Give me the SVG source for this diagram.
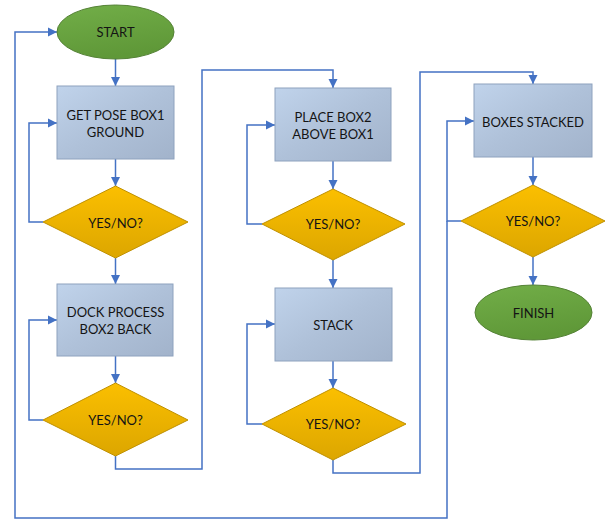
<svg xmlns="http://www.w3.org/2000/svg" width="605" height="520" viewBox="0 0 605 520">
<defs>
<linearGradient id="gGreen" x1="0" y1="0" x2="0.3" y2="1">
<stop offset="0" stop-color="#72AE48"/>
<stop offset="1" stop-color="#5F9838"/>
</linearGradient>
<linearGradient id="gBlue" x1="0" y1="0" x2="1" y2="1">
<stop offset="0" stop-color="#C0D3EB"/>
<stop offset="0.5" stop-color="#AFC1D9"/>
<stop offset="1" stop-color="#A2B3CB"/>
</linearGradient>
<linearGradient id="gGold" x1="0" y1="0" x2="0" y2="1">
<stop offset="0" stop-color="#FBBF00"/>
<stop offset="1" stop-color="#DCA600"/>
</linearGradient>
<marker id="arr" markerUnits="userSpaceOnUse" markerWidth="10" markerHeight="10" refX="9" refY="5" orient="auto">
<path d="M0,0.5 L9,5 L0,9.5 Z" fill="#4472C4"/>
</marker>
<style>
.term{fill:url(#gGreen);stroke:#548235;stroke-width:1}
.proc{fill:url(#gBlue);stroke:#8EA2BE;stroke-width:1}
.dec{fill:url(#gGold);stroke:#BF9000;stroke-width:1}
.lbl{font-family:Lato,"Liberation Sans",Arial,sans-serif;font-size:13px;fill:#141414;text-anchor:middle}
.con{fill:none;stroke:#4472C4;stroke-width:1.5}
.arrow{marker-end:url(#arr)}
</style>
</defs>

<g id="connectors">
<path class="con arrow" d="M115.5,59 L115.5,86"/>
<path class="con arrow" d="M115.5,159 L115.5,186"/>
<path class="con arrow" d="M43,222 L29,222 L29,123 L57,123"/>
<path class="con arrow" d="M115.5,258 L115.5,284"/>
<path class="con arrow" d="M115.5,356 L115.5,383"/>
<path class="con arrow" d="M43,420 L29,420 L29,320 L57,320"/>
<path class="con arrow" d="M115.5,456 L115.5,469 L202,469 L202,70 L333,70 L333,88"/>
<path class="con arrow" d="M333,161 L333,189"/>
<path class="con arrow" d="M262,224 L247,224 L247,125 L275,125"/>
<path class="con arrow" d="M333,260 L333,288"/>
<path class="con arrow" d="M333,361 L333,388"/>
<path class="con arrow" d="M262,424 L247,424 L247,324 L275,324"/>
<path class="con arrow" d="M333,460 L333,473 L420,473 L420,72 L533,72 L533,84"/>
<path class="con arrow" d="M533,157 L533,185"/>
<path class="con arrow" d="M461,221 L447,221 L447,121 L474,121"/>
<path class="con arrow" d="M447,221 L447,518 L15,518 L15,32 L57,32"/>
<path class="con arrow" d="M533,257 L533,285"/>
</g>

<g id="start">
<ellipse class="term" cx="115.5" cy="32" rx="58.5" ry="27"/>
<text class="lbl" x="115.5" y="37">START</text>
</g>

<g id="getPose">
<rect class="proc" x="57" y="86" width="117" height="73"/>
<text class="lbl" x="115.5" y="120">GET POSE BOX1</text>
<text class="lbl" x="115.5" y="137">GROUND</text>
</g>

<g id="dec1">
<polygon class="dec" points="115.5,186 188,222 115.5,258 43,222"/>
<text class="lbl" x="115.5" y="227.5">YES/NO?</text>
</g>

<g id="dock">
<rect class="proc" x="57" y="284" width="116" height="72"/>
<text class="lbl" x="115.5" y="317">DOCK PROCESS</text>
<text class="lbl" x="115.5" y="334">BOX2 BACK</text>
</g>

<g id="dec2">
<polygon class="dec" points="115.5,383 188,420 115.5,456 43,420"/>
<text class="lbl" x="115.5" y="425">YES/NO?</text>
</g>

<g id="place">
<rect class="proc" x="275" y="88" width="116" height="73"/>
<text class="lbl" x="333" y="122">PLACE BOX2</text>
<text class="lbl" x="333" y="139">ABOVE BOX1</text>
</g>

<g id="dec3">
<polygon class="dec" points="333,189 405,224 333,260 262,224"/>
<text class="lbl" x="333" y="229">YES/NO?</text>
</g>

<g id="stack">
<rect class="proc" x="275" y="288" width="117" height="73"/>
<text class="lbl" x="333" y="330">STACK</text>
</g>

<g id="dec4">
<polygon class="dec" points="333,388 406,424 333,460 262,424"/>
<text class="lbl" x="333" y="429">YES/NO?</text>
</g>

<g id="stacked">
<rect class="proc" x="474" y="84" width="118" height="73"/>
<text class="lbl" x="533" y="127">BOXES STACKED</text>
</g>

<g id="dec5">
<polygon class="dec" points="533,185 605,221 533,257 461,221"/>
<text class="lbl" x="533" y="226">YES/NO?</text>
</g>

<g id="finish">
<ellipse class="term" cx="533.5" cy="312.5" rx="58.5" ry="27.5"/>
<text class="lbl" x="533.5" y="317.5">FINISH</text>
</g>
</svg>
